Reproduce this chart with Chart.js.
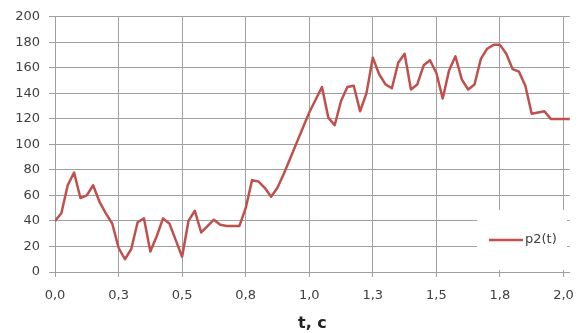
<!DOCTYPE html>
<html>
<head>
<meta charset="utf-8">
<script src="https://cdn.jsdelivr.net/npm/chart.js@4/dist/chart.umd.min.js"></script>
<style>
  body { margin: 0; background: #fff; }
</style>
</head>
<body>
<canvas id="mycanvas" width="585" height="333"></canvas>
<script>
var times = [0, 0.025, 0.05, 0.075, 0.1, 0.125, 0.15, 0.175, 0.2, 0.225,
  0.25, 0.275, 0.3, 0.325, 0.35, 0.375, 0.4, 0.425, 0.45, 0.475,
  0.5, 0.525, 0.55, 0.575, 0.6, 0.625, 0.65, 0.675, 0.7, 0.725,
  0.75, 0.775, 0.8, 0.825, 0.85, 0.875, 0.9, 0.925, 0.95, 0.975,
  1.0, 1.025, 1.05, 1.075, 1.1, 1.125, 1.15, 1.175, 1.2, 1.225,
  1.25, 1.275, 1.3, 1.325, 1.35, 1.375, 1.4, 1.425, 1.45, 1.475,
  1.5, 1.525, 1.55, 1.575, 1.6, 1.625, 1.65, 1.675, 1.7, 1.725,
  1.75, 1.775, 1.8, 1.825, 1.85, 1.875, 1.9, 1.925, 1.95, 1.975,
  2.0, 2.025];
var p2 = [40, 46, 68, 78, 58, 60, 68, 55, 46, 38,
  19, 10, 18, 39, 42, 16, 28, 42, 38, 25,
  12, 40, 48, 31, 36, 41, 37, 36, 36, 36,
  50, 72, 71, 66, 59, 66, 77, 89, 101, 113,
  125, 135, 145, 121, 115, 134, 145, 146, 126, 140,
  168, 155, 147, 144, 164, 171, 143, 147, 162, 166,
  156, 136, 158, 169, 151, 143, 147, 167, 175, 178,
  178, 171, 159, 157, 146, 124, 125, 126, 120, 120,
  120, 120];
var seriesName = 'p2(t)';
var axisTitle = 't, c';

var lineColor = '#c0504d';
var gridColor = '#a0a0a0';
var textColor = '#404040';

var points = [];
for (var i = 0; i < times.length; i++) {
  points.push({x: times[i], y: p2[i]});
}

// legend box drawn over the plot, like the original
var legendBox = {
  id: 'legendBox',
  afterDraw: function(chart) {
    var ctx = chart.ctx;
    ctx.save();
    ctx.fillStyle = '#fff';
    ctx.fillRect(477, 210, 90, 60);
    ctx.strokeStyle = lineColor;
    ctx.lineWidth = 2.5;
    ctx.beginPath();
    ctx.moveTo(489, 240);
    ctx.lineTo(523, 240);
    ctx.stroke();
    ctx.fillStyle = textColor;
    ctx.font = '13px "DejaVu Sans"';
    ctx.textBaseline = 'middle';
    ctx.fillText(seriesName, 525, 240);
    ctx.restore();
  }
};

var ctx = document.getElementById('mycanvas');
var lineGraph = new Chart(ctx, {
  type: 'line',
  data: {
    datasets: [{
      label: seriesName,
      data: points,
      borderColor: lineColor,
      borderWidth: 2.5,
      pointRadius: 0,
      tension: 0,
      borderJoinStyle: 'round',
      fill: false
    }]
  },
  options: {
    responsive: false,
    animation: false,
    layout: { padding: { top: 16, right: 14, left: 0, bottom: 0 } },
    plugins: {
      legend: { display: false },
      tooltip: { enabled: false }
    },
    scales: {
      x: {
        type: 'linear',
        min: 0,
        max: 2.025,
        afterFit: function(scale) { scale.height = 61; },
        grid: { color: gridColor, tickLength: 5 },
        border: { color: gridColor },
        ticks: {
          stepSize: 0.25,
          includeBounds: false,
          maxRotation: 0,
          autoSkip: false,
          padding: 11,
          color: textColor,
          font: { family: 'DejaVu Sans', size: 13 },
          callback: function(v) { return v.toFixed(1).replace('.', ','); }
        },
        title: {
          display: true,
          text: axisTitle,
          color: '#222',
          padding: { top: 0, bottom: 0 },
          font: { family: 'DejaVu Sans', size: 16, weight: 'bold' }
        }
      },
      y: {
        min: 0,
        max: 200,
        afterFit: function(scale) { scale.width = 55; },
        grid: { color: gridColor, tickLength: 6 },
        border: { color: gridColor },
        ticks: {
          stepSize: 20,
          padding: 9,
          color: textColor,
          font: { family: 'DejaVu Sans', size: 13 }
        }
      }
    }
  },
  plugins: [legendBox]
});
</script>
</body>
</html>
